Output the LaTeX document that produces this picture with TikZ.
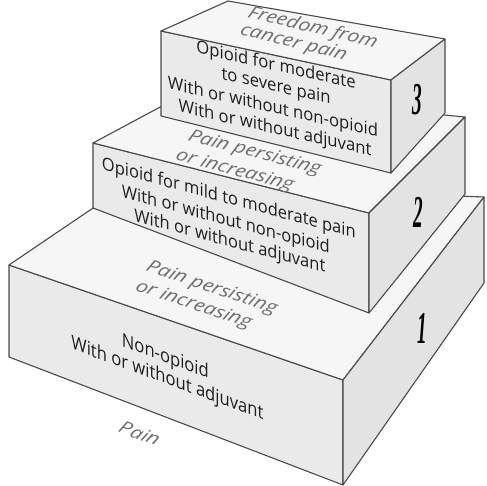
\documentclass[tikz,border=0pt]{standalone}
\usepackage{graphicx}
\usepackage{fontspec}
\setmainfont{Open Sans}
\newfontfamily\numfont{Liberation Serif}
\newfontfamily\fthree[FakeSlant=-0.228]{Open Sans}
\newfontfamily\ftwo[FakeSlant=-0.27]{Open Sans}
\newfontfamily\fone[FakeSlant=-0.37]{Open Sans}
\newfontfamily\flab[FakeSlant=0.15,FakeStretch=1.2]{Open Sans}
\definecolor{linec}{HTML}{4A4A4A}
\definecolor{frontc}{HTML}{EAEAEA}
\definecolor{topc}{HTML}{F6F6F6}
\definecolor{sidec}{HTML}{E3E3E3}
\definecolor{textc}{HTML}{1E1E1E}
\definecolor{labelc}{HTML}{6E6E6E}
\newcommand{\mthree}[1]{\rotatebox{-12.8}{\fthree\fontsize{17.1}{21}\selectfont #1}}
\newcommand{\mtwo}[1]{\rotatebox{-15.1}{\ftwo\fontsize{17.1}{21}\selectfont #1}}
\newcommand{\mone}[1]{\rotatebox{-20.3}{\fone\fontsize{17.7}{21}\selectfont #1}}
\newcommand{\lab}[2]{\rotatebox{#1}{\flab\fontsize{17.5}{20}\selectfont\itshape #2}}
\newcommand{\stepnum}[1]{\scalebox{0.8}[1.9]{\numfont\fontsize{24}{24}\selectfont\bfseries\itshape #1}}
\begin{document}
\begin{tikzpicture}[x=1pt,y=-1pt,
  face/.style={draw=linec, line width=1.1pt, line join=round},
  frontface/.style={face, fill=frontc},
  topface/.style={face, fill=topc},
  sideface/.style={face, fill=sidec},
  maintext/.style={text=textc, inner sep=0pt},
  toplabel/.style={text=labelc, inner sep=0pt},
  digit/.style={inner sep=0pt, text=black}
]
\useasboundingbox (0,0) rectangle (487,486);
% box 1 (bottom)
\coordinate (a1) at (9,265);   \coordinate (b1) at (343,380);
\coordinate (c1) at (484,197); \coordinate (d1) at (130,183);
\coordinate (e1) at (9,357);   \coordinate (f1) at (343,485);
\coordinate (g1) at (484,283);
% box 2
\coordinate (a2) at (93,143);  \coordinate (b2) at (369,213);
\coordinate (c2) at (465,117); \coordinate (d2) at (190,91);
\coordinate (e2) at (93,208);  \coordinate (f2) at (369,313);
\coordinate (g2) at (465,194);
% box 3
\coordinate (a3) at (161,31);  \coordinate (b3) at (391,80);
\coordinate (c3) at (445,39);  \coordinate (d3) at (228,1);
\coordinate (e3) at (161,116); \coordinate (f3) at (391,173);
\coordinate (g3) at (445,113);

\draw[frontface] (a1) -- (b1) -- (f1) -- (e1) -- cycle;
\draw[topface]   (a1) -- (b1) -- (c1) -- (d1) -- cycle;
\draw[sideface]  (b1) -- (c1) -- (g1) -- (f1) -- cycle;

\draw[frontface] (a2) -- (b2) -- (f2) -- (e2) -- cycle;
\draw[topface]   (a2) -- (b2) -- (c2) -- (d2) -- cycle;
\draw[sideface]  (b2) -- (c2) -- (g2) -- (f2) -- cycle;

\draw[frontface] (a3) -- (b3) -- (f3) -- (e3) -- cycle;
\draw[topface]   (a3) -- (b3) -- (c3) -- (d3) -- cycle;
\draw[sideface]  (b3) -- (c3) -- (g3) -- (f3) -- cycle;

% front texts (box 3)
\node[maintext] (t3a) at (277,66.5)  {\mthree{Opioid for moderate}};
\node[maintext] (t3b) at (277,87.5)  {\mthree{to severe pain}};
\node[maintext] (t3c) at (274,108.5) {\mthree{With or without non-opioid}};
\node[maintext] (t3d) at (276,129.5) {\mthree{With or without adjuvant}};
% box 2
\node[maintext] (t2a) at (230,199.5) {\mtwo{Opioid for mild to moderate pain}};
\node[maintext] (t2b) at (227,221)   {\mtwo{With or without non-opioid}};
\node[maintext] (t2c) at (231,242.5) {\mtwo{With or without adjuvant}};
% box 1
\node[maintext] (t1a) at (167,358) {\mone{Non-opioid}};
\node[maintext] (t1b) at (169,380) {\mone{With or without adjuvant}};

% top labels
\node[toplabel] (l3a) at (312,28)  {\lab{-13.5}{Freedom from}};
\node[toplabel] (l3b) at (293,43)  {\lab{-13.5}{cancer pain}};
\node[toplabel] (l2a) at (254,153) {\lab{-14.6}{Pain persisting}};
\node[toplabel] (l2b) at (234,171) {\lab{-14.6}{or increasing}};
\node[toplabel] (l1a) at (211,288) {\lab{-18.3}{Pain persisting}};
\node[toplabel] (l1b) at (193,305) {\lab{-18.3}{or increasing}};
\node[toplabel] (l0)  at (139,433) {\lab{-19.8}{Pain}};

% step numbers
\node[digit] (n3) at (417,100) {\stepnum{3}};
\node[digit] (n2) at (418,212) {\stepnum{2}};
\node[digit] (n1) at (422,328) {\stepnum{1}};
\end{tikzpicture}
\end{document}
